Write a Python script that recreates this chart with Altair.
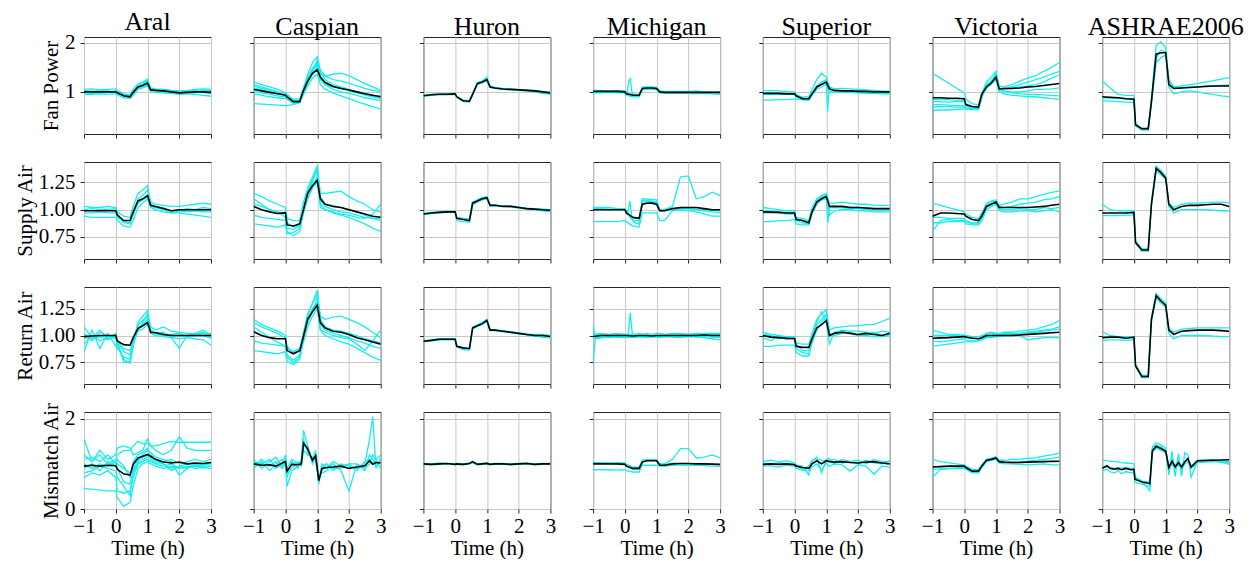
import altair as alt
import pandas as pd

SITES = ["Aral", "Caspian", "Huron", "Michigan", "Superior", "Victoria", "ASHRAE2006"]
METRICS = ["Fan Power", "Supply Air", "Return Air", "Mismatch Air"]

# common time grid (h)
T = [-1, -0.75, -0.5, -0.25, 0, 0.05, 0.25, 0.45, 0.55, 0.7, 0.85, 1.0, 1.1, 1.25, 1.5,
     1.75, 2, 2.25, 2.5, 2.75, 3]
T_CASPIAN_MIS = [-1, -0.75, -0.5, -0.3, -0.1, 0, 0.05, 0.2, 0.4, 0.5, 0.57, 0.7, 0.85, 0.95, 1.05,
                 1.15, 1.3, 1.5, 1.75, 2, 2.25, 2.5, 2.65, 2.75, 2.85, 3]
T_ASHRAE_MIS = [-1, -0.85, -0.75, -0.6, -0.5, -0.4, -0.25, -0.1, 0,
                0.03, 0.1, 0.25, 0.45, 0.5, 0.58, 0.7, 0.85, 1.0,
                1.1, 1.2, 1.3, 1.4, 1.5, 1.6, 1.7, 1.8, 2, 2.5, 3]

FAN_MEAN = {
    "Aral": [1.0, 1.0, 1.0, 1.0, 1.0, 0.98, 0.92, 0.9, 0.99, 1.1, 1.13, 1.18, 1.04, 1.03, 1.02, 1.0, 0.98, 0.99, 1.0, 1.0, 0.99],
    "Caspian": [1.05, 1.02, 0.99, 0.96, 0.93, 0.9, 0.8, 0.8, 1.0, 1.22, 1.38, 1.45, 1.3, 1.19, 1.11, 1.07, 1.04, 1.0, 0.96, 0.93, 0.9],
    "Huron": [0.92, 0.94, 0.95, 0.95, 0.96, 0.9, 0.82, 0.81, 0.95, 1.17, 1.2, 1.25, 1.1, 1.08, 1.06, 1.05, 1.04, 1.03, 1.02, 1.0, 0.98],
    "Michigan": [1.01, 1.01, 1.01, 1.01, 1.0, 0.96, 0.93, 0.93, 1.07, 1.08, 1.08, 1.07, 1.0, 0.99, 0.99, 0.99, 0.99, 0.99, 0.99, 0.99, 0.99],
    "Superior": [0.97, 0.97, 0.97, 0.96, 0.96, 0.92, 0.86, 0.86, 0.96, 1.1, 1.15, 1.2, 1.06, 1.03, 1.02, 1.02, 1.01, 1.01, 1.0, 1.0, 1.0],
    "Victoria": [0.88, 0.88, 0.87, 0.87, 0.86, 0.74, 0.7, 0.69, 0.95, 1.1, 1.18, 1.3, 1.06, 1.07, 1.07, 1.08, 1.1, 1.11, 1.13, 1.15, 1.17],
    "ASHRAE2006": [0.9, 0.89, 0.88, 0.86, 0.85, 0.33, 0.25, 0.25, 0.8, 1.77, 1.8, 1.8, 1.15, 1.07, 1.08, 1.09, 1.1, 1.11, 1.12, 1.12, 1.12],
}
FAN_RUNS = {
    "Aral": [
        [1.05, 1.06, 1.04, 1.05, 1.06, 1.03, 0.96, 0.94, 1.05, 1.16, 1.2, 1.26, 1.08, 1.06, 1.05, 1.03, 1.02, 1.03, 1.05, 1.06, 1.05],
        [0.95, 0.95, 0.96, 0.95, 0.96, 0.94, 0.88, 0.87, 0.93, 1.05, 1.08, 1.12, 1.0, 0.99, 0.98, 0.97, 0.95, 0.96, 0.95, 0.93, 0.91],
        [1.01, 1.02, 0.99, 1.01, 1.0, 0.99, 0.91, 0.89, 0.97, 1.12, 1.15, 1.21, 1.05, 1.02, 1.01, 0.99, 0.97, 1.0, 1.01, 0.99, 0.97],
        [0.98, 0.97, 0.98, 0.99, 1.02, 0.96, 0.93, 0.9, 1.0, 1.08, 1.1, 1.15, 1.03, 1.04, 1.0, 1.01, 1.0, 0.98, 0.98, 1.02, 1.03],
        [1.03, 1.0, 1.03, 1.02, 0.99, 1.0, 0.95, 0.92, 1.02, 1.13, 1.17, 1.23, 1.06, 1.05, 1.03, 1.02, 0.99, 1.01, 1.03, 1.04, 1.01],
    ],
    "Caspian": [
        [1.2, 1.15, 1.1, 1.05, 0.98, 0.95, 0.85, 0.86, 1.05, 1.35, 1.6, 1.72, 1.45, 1.32, 1.25, 1.22, 1.18, 1.12, 1.07, 1.03, 1.0],
        [1.12, 1.07, 1.03, 0.99, 0.95, 0.92, 0.8, 0.82, 1.0, 1.28, 1.48, 1.6, 1.38, 1.32, 1.36, 1.38, 1.33, 1.25, 1.17, 1.1, 1.03],
        [0.76, 0.75, 0.74, 0.73, 0.72, 0.72, 0.74, 0.78, 0.92, 1.12, 1.28, 1.36, 1.15, 1.05, 0.98, 0.92, 0.86, 0.8, 0.75, 0.7, 0.65],
        [0.96, 0.93, 0.9, 0.88, 0.86, 0.85, 0.77, 0.79, 0.97, 1.18, 1.35, 1.5, 1.28, 1.15, 1.05, 1.0, 0.97, 0.93, 0.88, 0.85, 0.82],
        [1.15, 1.1, 1.05, 1.0, 0.95, 0.9, 0.76, 0.8, 1.0, 1.25, 1.45, 1.55, 1.25, 1.15, 1.1, 1.07, 1.02, 1.0, 0.97, 0.93, 0.92],
        [1.0, 0.98, 0.95, 0.92, 0.9, 0.88, 0.82, 0.83, 0.98, 1.2, 1.4, 1.65, 1.4, 1.25, 1.15, 1.1, 1.05, 1.0, 0.95, 0.9, 0.86],
        [1.08, 1.04, 1.0, 0.97, 0.94, 0.91, 0.79, 0.81, 0.99, 1.22, 1.42, 1.58, 1.32, 1.2, 1.12, 1.08, 1.03, 0.98, 0.94, 0.9, 0.87],
    ],
    "Huron": [
        [0.93, 0.95, 0.96, 0.96, 0.97, 0.91, 0.83, 0.82, 0.97, 1.19, 1.22, 1.3, 1.12, 1.09, 1.07, 1.06, 1.05, 1.04, 1.03, 1.01, 0.99],
        [0.91, 0.93, 0.94, 0.94, 0.95, 0.89, 0.8, 0.79, 0.93, 1.15, 1.18, 1.23, 1.09, 1.07, 1.05, 1.04, 1.03, 1.02, 1.0, 0.97, 0.95],
    ],
    "Michigan": [
        [1.03, 1.03, 1.02, 1.03, 1.02, 0.98, 0.95, 0.95, 1.1, 1.1, 1.1, 1.09, 1.02, 1.01, 1.01, 1.01, 1.01, 1.02, 1.0, 1.0, 1.0],
        [0.98, 0.98, 0.99, 0.98, 0.98, 0.93, 0.9, 0.9, 1.04, 1.05, 1.05, 1.04, 0.98, 0.97, 0.97, 0.97, 0.97, 0.96, 0.97, 0.96, 0.95],
    ],
    "Superior": [
        [1.02, 1.03, 1.02, 1.01, 1.0, 0.95, 0.89, 0.9, 1.05, 1.25, 1.38, 1.3, 1.1, 1.06, 1.07, 1.06, 1.05, 1.04, 1.03, 1.02, 1.01],
        [0.83, 0.83, 0.84, 0.84, 0.85, 0.85, 0.84, 0.84, 0.93, 1.05, 1.1, 1.15, 0.98, 1.0, 1.0, 0.99, 0.98, 0.97, 0.97, 0.96, 0.96],
        [0.96, 0.98, 0.96, 0.97, 0.95, 0.9, 0.84, 0.83, 0.94, 1.08, 1.2, 1.25, 1.07, 1.02, 1.0, 0.99, 1.0, 0.99, 0.98, 0.98, 0.97],
    ],
    "Victoria": [
        [1.38, 1.28, 1.18, 1.08, 0.98, 0.85, 0.76, 0.73, 0.98, 1.2, 1.3, 1.42, 1.12, 1.1, 1.15, 1.22, 1.28, 1.33, 1.42, 1.5, 1.6],
        [0.62, 0.63, 0.63, 0.64, 0.65, 0.65, 0.66, 0.66, 0.88, 1.12, 1.2, 1.35, 1.0, 0.96, 0.93, 0.92, 0.9, 0.9, 0.88, 0.86, 0.85],
        [0.8, 0.8, 0.79, 0.8, 0.8, 0.74, 0.7, 0.7, 0.93, 1.1, 1.2, 1.28, 1.05, 1.06, 1.1, 1.15, 1.2, 1.25, 1.3, 1.36, 1.42],
        [0.74, 0.74, 0.73, 0.72, 0.72, 0.7, 0.67, 0.67, 0.9, 1.1, 1.17, 1.3, 1.05, 1.0, 1.0, 1.0, 1.02, 1.05, 1.05, 1.06, 1.08],
        [0.7, 0.7, 0.7, 0.69, 0.69, 0.67, 0.64, 0.64, 0.88, 1.15, 1.22, 1.38, 1.08, 1.05, 1.08, 1.1, 1.12, 1.15, 1.2, 1.28, 1.35],
        [0.85, 0.84, 0.84, 0.83, 0.83, 0.72, 0.68, 0.68, 0.92, 1.08, 1.15, 1.25, 1.04, 1.02, 0.98, 0.96, 0.95, 0.95, 0.94, 0.93, 0.92],
    ],
    "ASHRAE2006": [
        [1.22, 1.08, 0.95, 0.93, 0.93, 0.35, 0.24, 0.24, 0.85, 1.95, 2.02, 1.9, 1.25, 1.1, 1.12, 1.15, 1.17, 1.2, 1.23, 1.26, 1.29],
        [0.82, 0.81, 0.8, 0.79, 0.78, 0.3, 0.22, 0.22, 0.75, 1.6, 1.7, 1.75, 1.1, 0.96, 1.0, 1.02, 1.0, 0.97, 0.95, 0.92, 0.9],
        [0.88, 0.87, 0.87, 0.86, 0.86, 0.32, 0.24, 0.24, 0.78, 1.7, 1.85, 1.82, 1.18, 1.08, 1.08, 1.1, 1.1, 1.12, 1.12, 1.13, 1.14],
    ],
}

SUPPLY_MEAN = {
    "Aral": [0.99, 0.99, 0.99, 0.99, 0.99, 0.95, 0.9, 0.9, 0.98, 1.08, 1.1, 1.13, 1.04, 1.03, 1.01, 0.99, 1.0, 1.0, 1.0, 1.0, 1.0],
    "Caspian": [1.03, 1.0, 0.98, 0.965, 0.97, 0.86, 0.85, 0.87, 0.98, 1.15, 1.22, 1.27, 1.1, 1.05, 1.03, 1.02, 1.0, 0.98, 0.96, 0.94, 0.93],
    "Huron": [0.96, 0.97, 0.975, 0.98, 0.98, 0.92, 0.91, 0.9, 1.06, 1.08, 1.1, 1.11, 1.04, 1.04, 1.03, 1.03, 1.02, 1.01, 1.005, 1.0, 0.995],
    "Michigan": [1.0, 1.0, 1.0, 1.0, 1.0, 0.97, 0.93, 0.92, 1.05, 1.06, 1.06, 1.05, 0.99, 0.99, 1.01, 1.02, 1.02, 1.02, 1.01, 1.0, 1.0],
    "Superior": [0.98, 0.978, 0.975, 0.97, 0.97, 0.91, 0.9, 0.88, 0.98, 1.07, 1.1, 1.12, 1.03, 1.03, 1.03, 1.02, 1.02, 1.015, 1.01, 1.01, 1.01],
    "Victoria": [0.94, 0.97, 0.97, 0.965, 0.96, 0.94, 0.91, 0.9, 0.94, 1.03, 1.05, 1.07, 1.02, 1.02, 1.02, 1.02, 1.02, 1.025, 1.03, 1.04, 1.05],
    "ASHRAE2006": [0.97, 0.97, 0.97, 0.97, 0.975, 0.7, 0.63, 0.63, 1.05, 1.38, 1.34, 1.29, 1.05, 1.0, 1.03, 1.04, 1.04, 1.045, 1.05, 1.05, 1.03],
}
SUPPLY_RUNS = {
    "Aral": [
        [1.03, 1.02, 1.02, 1.03, 1.02, 0.98, 0.94, 0.93, 1.03, 1.15, 1.18, 1.22, 1.07, 1.05, 1.04, 1.03, 1.03, 1.04, 1.05, 1.06, 1.05],
        [0.94, 0.93, 0.93, 0.93, 0.93, 0.9, 0.85, 0.84, 0.9, 1.02, 1.06, 1.1, 1.02, 1.0, 0.98, 0.97, 0.97, 0.96, 0.95, 0.94, 0.93],
        [1.0, 1.01, 1.0, 1.0, 1.01, 0.96, 0.88, 0.87, 0.95, 1.1, 1.13, 1.18, 1.05, 1.03, 1.02, 0.98, 0.99, 1.01, 1.0, 1.02, 1.01],
        [0.97, 0.97, 0.98, 0.97, 0.97, 0.93, 0.89, 0.88, 0.97, 1.06, 1.09, 1.12, 1.03, 1.02, 1.0, 0.97, 0.99, 0.98, 0.99, 0.98, 0.98],
    ],
    "Caspian": [
        [1.15, 1.12, 1.08, 1.05, 1.02, 0.92, 0.9, 0.9, 1.05, 1.2, 1.3, 1.4, 1.15, 1.15, 1.16, 1.17, 1.12, 1.08, 1.05, 1.0, 0.98],
        [0.87, 0.86, 0.85, 0.84, 0.86, 0.8, 0.76, 0.8, 0.95, 1.1, 1.2, 1.3, 1.05, 1.0, 0.97, 0.95, 0.93, 0.9, 0.87, 0.83, 0.8],
        [1.1, 1.05, 1.0, 0.98, 0.93, 0.83, 0.82, 0.85, 0.98, 1.12, 1.2, 1.25, 1.08, 1.03, 1.0, 0.98, 0.97, 0.95, 0.93, 0.92, 0.92],
        [0.95, 0.93, 0.92, 0.91, 0.9, 0.78, 0.79, 0.83, 0.97, 1.15, 1.28, 1.35, 1.02, 1.0, 0.98, 0.96, 0.95, 0.93, 0.92, 0.96, 1.05],
        [1.05, 1.03, 1.0, 0.98, 0.97, 0.88, 0.84, 0.86, 1.0, 1.18, 1.25, 1.38, 1.12, 1.05, 1.04, 1.02, 1.0, 0.98, 0.95, 0.92, 0.9],
    ],
    "Huron": [
        [0.965, 0.975, 0.98, 0.985, 0.985, 0.93, 0.92, 0.915, 1.07, 1.09, 1.11, 1.12, 1.045, 1.045, 1.035, 1.035, 1.025, 1.015, 1.01, 1.005, 1.0],
        [0.955, 0.965, 0.97, 0.975, 0.975, 0.9, 0.89, 0.885, 1.04, 1.07, 1.09, 1.1, 1.035, 1.035, 1.03, 1.025, 1.015, 1.005, 1.0, 0.99, 0.98],
    ],
    "Michigan": [
        [1.02, 1.02, 1.02, 1.01, 1.01, 0.98, 0.92, 0.92, 1.08, 1.08, 1.08, 1.07, 1.0, 1.0, 1.03, 1.3, 1.31, 1.1, 1.12, 1.16, 1.13],
        [0.89, 0.89, 0.89, 0.89, 0.9, 0.89, 0.85, 0.84, 0.97, 0.97, 0.97, 0.97, 0.9, 0.9, 0.99, 1.0, 0.99, 0.98, 0.96, 0.94, 0.94],
        [1.01, 1.01, 1.0, 1.0, 1.0, 0.97, 0.9, 0.9, 1.08, 1.08, 1.07, 1.06, 0.99, 0.99, 1.0, 1.01, 1.01, 1.0, 0.99, 0.98, 0.97],
    ],
    "Superior": [
        [0.89, 0.89, 0.9, 0.9, 0.91, 0.87, 0.86, 0.86, 0.98, 1.08, 1.12, 1.14, 0.95, 0.99, 1.0, 1.0, 0.99, 0.99, 0.98, 0.98, 0.98],
        [1.02, 1.01, 1.0, 0.99, 0.99, 0.93, 0.92, 0.9, 1.02, 1.1, 1.13, 1.15, 1.06, 1.06, 1.07, 1.06, 1.05, 1.05, 1.04, 1.04, 1.04],
        [0.97, 0.97, 0.97, 0.96, 0.96, 0.9, 0.88, 0.87, 0.96, 1.05, 1.09, 1.1, 1.02, 1.02, 1.02, 1.01, 1.01, 1.0, 1.0, 0.99, 1.0],
    ],
    "Victoria": [
        [1.06, 1.04, 1.02, 1.0, 0.98, 0.96, 0.93, 0.92, 0.97, 1.06, 1.08, 1.09, 1.04, 1.05, 1.07, 1.1, 1.1, 1.12, 1.14, 1.16, 1.17],
        [0.88, 0.88, 0.89, 0.89, 0.89, 0.87, 0.86, 0.86, 0.9, 1.0, 1.03, 1.05, 0.99, 0.98, 0.98, 0.99, 0.99, 0.98, 0.99, 1.0, 0.98],
        [0.93, 0.93, 0.92, 0.92, 0.92, 0.9, 0.88, 0.88, 0.95, 1.04, 1.07, 1.08, 1.03, 1.02, 1.03, 1.05, 1.06, 1.07, 1.09, 1.1, 1.12],
        [0.8, 0.9, 0.91, 0.9, 0.9, 0.89, 0.87, 0.87, 0.92, 1.02, 1.05, 1.06, 1.01, 1.0, 1.0, 1.01, 1.0, 1.0, 1.02, 1.01, 1.02],
    ],
    "ASHRAE2006": [
        [1.05, 1.0, 0.99, 0.99, 0.99, 0.71, 0.64, 0.64, 1.07, 1.4, 1.36, 1.31, 1.06, 1.02, 1.05, 1.06, 1.06, 1.065, 1.07, 1.07, 1.06],
        [0.945, 0.945, 0.945, 0.95, 0.95, 0.69, 0.62, 0.62, 1.03, 1.36, 1.32, 1.28, 1.03, 0.97, 1.0, 1.0, 1.0, 1.0, 0.995, 0.99, 0.99],
    ],
}

RETURN_MEAN = {
    "Aral": [0.99, 0.995, 1.0, 1.0, 1.0, 0.95, 0.915, 0.91, 0.98, 1.065, 1.09, 1.12, 1.03, 1.025, 1.01, 1.0, 1.0, 1.0, 1.0, 1.0, 1.0],
    "Caspian": [1.035, 1.0, 0.98, 0.97, 0.97, 0.86, 0.83, 0.86, 0.97, 1.15, 1.22, 1.28, 1.12, 1.07, 1.04, 1.03, 1.01, 0.98, 0.96, 0.94, 0.92],
    "Huron": [0.947, 0.955, 0.965, 0.965, 0.965, 0.9, 0.885, 0.88, 1.07, 1.09, 1.11, 1.14, 1.05, 1.05, 1.04, 1.03, 1.02, 1.01, 1.0, 1.0, 0.99],
    "Michigan": [0.99, 1.0, 1.0, 1.0, 1.0, 1.0, 0.995, 1.0, 1.0, 1.0, 0.995, 1.0, 1.0, 1.0, 1.0, 1.0, 1.0, 1.0, 1.005, 1.0, 1.0],
    "Superior": [1.0, 0.985, 0.98, 0.975, 0.97, 0.9, 0.89, 0.89, 0.97, 1.07, 1.1, 1.14, 1.0, 1.02, 1.03, 1.02, 1.01, 1.02, 1.01, 1.0, 1.02],
    "Victoria": [0.975, 0.978, 0.98, 0.985, 0.99, 0.985, 0.975, 0.97, 0.98, 1.0, 1.0, 1.0, 1.0, 1.0, 1.0, 1.005, 1.01, 1.015, 1.02, 1.025, 1.03],
    "ASHRAE2006": [0.98, 0.985, 0.985, 0.975, 0.985, 0.72, 0.62, 0.62, 1.15, 1.37, 1.32, 1.28, 1.05, 1.01, 1.04, 1.045, 1.05, 1.05, 1.05, 1.045, 1.04],
}
RETURN_RUNS = {
    "Aral": [
        [0.85, 1.05, 0.88, 1.02, 0.9, 0.95, 0.75, 0.76, 0.92, 1.05, 1.12, 1.2, 1.05, 1.02, 1.03, 0.98, 0.88, 1.0, 1.02, 1.05, 1.0],
        [1.08, 0.98, 1.05, 0.97, 1.02, 0.88, 0.8, 0.78, 0.95, 1.12, 1.18, 1.23, 1.08, 1.05, 1.08, 1.04, 1.03, 1.02, 1.01, 1.03, 0.98],
        [0.98, 0.97, 0.99, 0.96, 0.99, 0.94, 0.88, 0.86, 0.93, 1.04, 1.06, 1.1, 1.02, 1.0, 0.99, 0.98, 0.97, 0.98, 0.97, 0.96, 0.91],
        [0.92, 1.0, 0.95, 0.98, 1.0, 0.96, 0.85, 0.82, 0.97, 1.08, 1.1, 1.15, 1.04, 1.03, 1.02, 1.0, 1.0, 1.0, 1.01, 1.0, 0.97],
        [1.02, 0.95, 1.03, 1.0, 0.97, 0.92, 0.78, 0.74, 0.9, 1.1, 1.14, 1.18, 1.04, 1.02, 1.0, 1.01, 1.02, 0.99, 1.0, 1.02, 1.02],
    ],
    "Caspian": [
        [1.15, 1.1, 1.07, 1.04, 1.0, 0.88, 0.85, 0.88, 1.0, 1.18, 1.3, 1.42, 1.18, 1.15, 1.17, 1.18, 1.15, 1.12, 1.08, 1.03, 0.98],
        [0.86, 0.85, 0.84, 0.83, 0.85, 0.76, 0.73, 0.78, 0.92, 1.08, 1.18, 1.25, 1.05, 1.0, 0.97, 0.94, 0.92, 0.88, 0.84, 0.8, 0.77],
        [1.08, 1.03, 0.98, 0.94, 0.9, 0.8, 0.75, 0.8, 0.95, 1.12, 1.22, 1.35, 1.1, 1.05, 1.02, 1.0, 0.98, 0.95, 0.93, 0.9, 0.88],
        [0.95, 0.93, 0.92, 0.91, 0.9, 0.82, 0.77, 0.82, 0.97, 1.14, 1.25, 1.3, 1.05, 1.03, 1.0, 0.98, 0.97, 0.92, 0.86, 0.95, 1.05],
        [1.12, 1.08, 1.05, 1.02, 0.98, 0.9, 0.84, 0.86, 1.0, 1.2, 1.3, 1.38, 1.15, 1.08, 1.05, 1.04, 1.02, 1.0, 0.97, 0.95, 0.93],
    ],
    "Huron": [
        [0.95, 0.96, 0.97, 0.97, 0.97, 0.9, 0.875, 0.87, 1.08, 1.1, 1.12, 1.15, 1.055, 1.055, 1.045, 1.035, 1.025, 1.015, 1.01, 1.01, 1.0],
        [0.943, 0.95, 0.96, 0.96, 0.96, 0.895, 0.87, 0.865, 1.06, 1.085, 1.1, 1.13, 1.045, 1.045, 1.035, 1.025, 1.015, 1.005, 0.995, 0.985, 0.975],
    ],
    "Michigan": [
        [1.01, 1.02, 1.01, 1.02, 1.01, 1.01, 1.01, 1.02, 1.01, 1.02, 1.01, 1.02, 1.02, 1.01, 1.02, 1.02, 1.01, 1.02, 1.02, 1.02, 1.02],
        [0.98, 0.985, 0.98, 0.99, 0.98, 0.985, 0.98, 0.99, 0.985, 0.98, 0.99, 0.985, 0.98, 0.99, 0.985, 0.98, 0.99, 0.985, 0.98, 0.97, 0.96],
    ],
    "Superior": [
        [0.9, 0.9, 0.91, 0.91, 0.91, 0.84, 0.81, 0.81, 0.95, 1.1, 1.15, 1.2, 1.0, 1.02, 1.04, 1.02, 1.0, 1.0, 0.99, 0.99, 1.0],
        [1.03, 1.01, 1.0, 0.99, 0.99, 0.93, 0.92, 0.92, 1.02, 1.15, 1.2, 1.24, 1.05, 1.07, 1.08, 1.09, 1.09, 1.1, 1.1, 1.13, 1.16],
        [0.98, 0.95, 1.0, 0.96, 0.98, 0.88, 0.84, 0.83, 0.93, 1.05, 1.12, 1.18, 1.02, 1.0, 1.02, 1.03, 1.0, 1.01, 1.03, 1.0, 1.01],
        [1.01, 1.0, 0.97, 0.99, 0.98, 0.92, 0.86, 0.86, 0.99, 1.12, 1.22, 1.12, 0.92, 1.03, 1.05, 1.04, 1.04, 1.03, 1.02, 1.04, 1.03],
    ],
    "Victoria": [
        [1.05, 1.03, 1.01, 1.01, 1.0, 1.0, 0.99, 0.99, 1.0, 1.02, 1.03, 1.02, 1.02, 1.03, 1.03, 1.04, 1.05, 1.06, 1.08, 1.1, 1.14],
        [0.9, 0.91, 0.92, 0.93, 0.94, 0.94, 0.94, 0.95, 0.96, 0.98, 0.98, 0.99, 0.99, 1.0, 1.0, 1.0, 0.96, 0.97, 0.98, 0.98, 0.98],
        [0.95, 0.94, 0.95, 0.96, 0.97, 0.96, 0.95, 0.95, 0.97, 0.99, 1.0, 1.01, 1.0, 1.01, 1.01, 1.02, 1.03, 1.04, 1.05, 1.06, 1.08],
        [1.0, 1.0, 1.0, 1.0, 1.0, 0.99, 0.98, 0.97, 0.99, 1.01, 1.02, 1.02, 1.01, 1.02, 1.02, 1.02, 1.03, 1.03, 1.04, 1.05, 1.06],
    ],
    "ASHRAE2006": [
        [1.035, 1.0, 0.99, 0.99, 0.99, 0.73, 0.63, 0.63, 1.17, 1.39, 1.34, 1.3, 1.07, 1.03, 1.06, 1.065, 1.07, 1.07, 1.07, 1.07, 1.07],
        [0.955, 0.96, 0.96, 0.955, 0.96, 0.71, 0.61, 0.61, 1.13, 1.35, 1.3, 1.26, 1.02, 0.97, 1.0, 1.0, 1.0, 1.0, 0.995, 0.99, 0.99],
    ],
}

MISMATCH_MEAN = {
    "Aral": [0.95, 0.97, 0.95, 0.97, 0.96, 0.88, 0.78, 0.75, 0.99, 1.13, 1.17, 1.21, 1.17, 1.1, 1.04, 1.02, 1.04, 1.0, 1.02, 1.01, 1.03],
    "Caspian": [1.0, 0.97, 0.98, 0.95, 1.02, 1.05, 0.84, 0.99, 0.98, 1.0, 1.46, 1.33, 1.08, 1.18, 0.63, 0.9, 0.92, 0.93, 0.95, 0.9, 0.93, 0.96, 1.07, 0.99, 1.03, 1.02],
    "Huron": [1.0, 0.99, 1.0, 1.01, 0.99, 1.0, 0.99, 1.01, 1.05, 0.99, 1.0, 1.01, 0.99, 1.0, 1.0, 0.99, 1.0, 1.01, 0.99, 1.0, 1.0],
    "Michigan": [1.0, 1.0, 1.0, 1.0, 0.99, 0.95, 0.9, 0.9, 1.04, 1.07, 1.07, 1.07, 0.97, 0.97, 1.0, 1.01, 1.01, 1.0, 1.0, 0.995, 0.99],
    "Superior": [0.99, 1.0, 0.99, 1.0, 0.98, 0.95, 0.92, 0.9, 1.0, 1.07, 1.0, 1.07, 1.05, 1.04, 1.05, 1.03, 1.02, 1.04, 1.05, 1.02, 1.0],
    "Victoria": [0.93, 0.94, 0.95, 0.95, 0.95, 0.92, 0.84, 0.84, 0.95, 1.08, 1.1, 1.13, 1.05, 1.04, 1.03, 1.03, 1.04, 1.045, 1.05, 1.055, 1.06],
    "ASHRAE2006": [0.9, 0.96, 0.9, 0.88, 0.9, 0.87, 0.9, 0.87, 0.88,
                   0.66, 0.64, 0.6, 0.57, 0.56, 1.29, 1.39, 1.34, 1.28,
                   0.92, 1.06, 0.93, 1.03, 0.93, 1.04, 1.12, 0.93, 1.07, 1.08, 1.09],
}
MISMATCH_RUNS = {
    "Aral": [
        [0.45, 0.44, 0.42, 0.4, 0.4, 0.25, 0.06, 0.15, 0.5, 0.9, 1.0, 1.05, 1.0, 0.95, 0.9, 0.95, 0.9, 0.92, 0.95, 0.93, 0.95],
        [1.55, 1.05, 1.2, 1.0, 1.1, 1.2, 1.3, 1.3, 1.4, 1.5, 1.45, 1.45, 1.4, 1.4, 1.45, 1.5, 1.48, 1.48, 1.48, 1.48, 1.48],
        [0.7, 0.8, 0.75, 0.85, 0.7, 0.4, 0.35, 0.4, 0.7, 1.0, 1.1, 1.15, 1.2, 1.1, 1.0, 0.9, 0.95, 1.0, 0.95, 0.98, 1.0],
        [1.2, 1.05, 1.3, 1.1, 1.2, 1.35, 1.4, 1.35, 1.2, 1.25, 1.3, 1.55, 1.4, 1.3, 1.2, 1.3, 1.6, 1.35, 1.3, 1.3, 1.3],
        [1.0, 0.9, 1.0, 0.95, 1.05, 0.9, 0.6, 0.55, 0.9, 1.1, 1.15, 1.2, 1.15, 1.05, 1.0, 0.85, 0.95, 0.9, 1.0, 0.95, 0.95],
        [0.9, 1.0, 0.85, 1.05, 0.95, 1.0, 0.9, 0.8, 0.85, 1.0, 1.05, 1.1, 1.05, 1.0, 0.95, 1.0, 0.9, 0.95, 0.9, 0.92, 0.9],
        [0.8, 0.85, 0.95, 0.9, 0.85, 0.7, 0.5, 0.3, 0.8, 1.05, 1.2, 1.3, 1.25, 1.15, 1.1, 1.05, 0.75, 0.9, 0.98, 1.0, 1.02],
        [1.1, 1.15, 1.05, 1.2, 1.0, 1.1, 0.95, 0.7, 1.05, 1.2, 1.25, 1.35, 1.1, 1.0, 1.05, 1.1, 1.0, 1.05, 1.1, 1.05, 1.1],
    ],
    "Caspian": [
        [1.1, 0.9, 1.05, 1.15, 0.95, 1.1, 0.7, 1.05, 0.9, 1.1, 1.75, 1.4, 1.0, 1.2, 0.55, 0.95, 1.0, 0.85, 1.0, 0.95, 0.9, 1.0, 1.55, 2.05, 0.9, 1.15],
        [0.9, 1.05, 0.85, 1.0, 1.1, 0.95, 0.8, 0.9, 1.05, 0.95, 1.3, 1.2, 1.15, 1.05, 0.7, 0.8, 0.85, 1.0, 0.85, 0.4, 1.0, 0.9, 1.0, 1.2, 1.1, 0.9],
        [1.05, 1.0, 1.1, 0.9, 1.0, 1.2, 0.9, 1.1, 1.0, 1.05, 1.55, 1.25, 1.1, 1.3, 0.6, 1.0, 0.9, 1.05, 0.95, 1.0, 0.85, 1.05, 1.1, 1.0, 1.1, 1.2],
        [0.95, 1.1, 0.95, 1.05, 0.9, 1.0, 0.5, 0.85, 0.95, 1.0, 1.4, 1.4, 1.05, 1.1, 0.65, 0.85, 1.0, 0.9, 0.9, 1.0, 1.0, 0.85, 1.2, 1.1, 0.95, 1.05],
    ],
    "Huron": [
        [1.01, 1.0, 1.02, 1.0, 1.01, 1.01, 1.0, 1.02, 1.04, 1.0, 1.01, 1.02, 1.0, 1.01, 1.01, 1.0, 1.01, 1.02, 1.0, 1.01, 1.01],
        [0.99, 0.98, 0.99, 1.0, 0.98, 0.99, 0.98, 1.0, 1.02, 0.98, 0.99, 1.0, 0.98, 0.99, 0.99, 0.98, 0.99, 1.0, 0.98, 0.99, 0.99],
    ],
    "Michigan": [
        [1.03, 1.03, 1.02, 1.03, 1.02, 0.99, 0.93, 0.93, 1.08, 1.1, 1.1, 1.1, 1.0, 1.0, 1.1, 1.34, 1.34, 1.13, 1.15, 1.2, 1.13],
        [0.87, 0.87, 0.87, 0.86, 0.87, 0.85, 0.82, 0.82, 0.97, 0.97, 0.97, 0.97, 0.95, 0.95, 0.97, 0.98, 0.97, 0.97, 0.96, 0.95, 0.94],
        [1.01, 1.01, 1.01, 1.0, 1.0, 0.96, 0.88, 0.88, 1.06, 1.08, 1.08, 1.08, 0.99, 0.99, 1.01, 1.01, 1.0, 1.0, 0.99, 0.99, 0.98],
    ],
    "Superior": [
        [1.05, 1.08, 1.04, 1.07, 1.02, 0.97, 0.95, 0.75, 1.05, 1.15, 0.8, 1.1, 1.12, 1.0, 1.1, 1.05, 1.08, 1.0, 1.1, 1.05, 1.05],
        [0.95, 0.96, 0.93, 0.97, 0.95, 0.9, 0.86, 0.85, 0.93, 1.0, 0.85, 1.02, 0.95, 1.0, 0.98, 0.84, 0.98, 0.95, 0.77, 0.95, 0.93],
        [1.02, 0.99, 1.02, 1.01, 1.0, 0.98, 0.88, 0.95, 1.08, 1.12, 1.08, 1.05, 1.08, 1.1, 1.02, 1.06, 1.0, 1.08, 1.02, 1.0, 1.07],
    ],
    "Victoria": [
        [1.1, 1.05, 1.03, 1.0, 0.98, 0.95, 0.88, 0.88, 0.98, 1.1, 1.13, 1.16, 1.08, 1.08, 1.1, 1.1, 1.12, 1.14, 1.17, 1.2, 1.24],
        [0.7, 0.88, 0.89, 0.9, 0.9, 0.88, 0.8, 0.8, 0.92, 1.05, 1.08, 1.1, 1.02, 1.0, 1.0, 0.99, 0.98, 0.99, 1.0, 0.98, 0.98],
        [0.88, 0.89, 0.9, 0.91, 0.92, 0.9, 0.82, 0.81, 0.93, 1.06, 1.09, 1.12, 1.04, 1.03, 1.04, 1.05, 1.06, 1.08, 1.1, 1.12, 1.15],
    ],
    "ASHRAE2006": [
        [1.09, 1.07, 1.06, 1.05, 1.04, 1.03, 1.02, 1.01, 1.0,
         0.72, 0.68, 0.62, 0.45, 0.4, 1.38, 1.47, 1.42, 1.35,
         0.75, 1.28, 0.72, 1.22, 0.73, 1.25, 1.2, 0.7, 1.06, 1.07, 1.05],
        [0.85, 0.88, 0.82, 0.8, 0.85, 0.78, 0.83, 0.8, 0.82,
         0.6, 0.58, 0.55, 0.5, 0.5, 1.25, 1.35, 1.3, 1.25,
         0.88, 1.0, 0.9, 1.0, 0.88, 1.0, 1.05, 0.9, 1.03, 1.05, 1.02],
        [0.92, 0.93, 0.92, 0.9, 0.92, 0.9, 0.92, 0.9, 0.9,
         0.7, 0.66, 0.62, 0.6, 0.6, 1.32, 1.42, 1.37, 1.3,
         0.95, 1.1, 0.96, 1.06, 0.95, 1.06, 1.1, 0.95, 1.08, 1.1, 0.99],
    ],
}

# single runs with their own sample times (short spikes)
EXTRA_RUNS = [
    ("Fan Power", "Michigan", [-1, -0.5, 0, 0.08, 0.12, 0.17, 0.22, 0.3, 0.45, 0.55, 1.0, 1.1, 2, 3],
     [1.0, 1.01, 1.0, 0.99, 1.22, 1.27, 1.0, 0.92, 0.92, 1.07, 1.07, 1.0, 0.99, 0.98]),
    ("Fan Power", "Superior", [-1, 0, 0.05, 0.45, 0.55, 0.7, 0.85, 1.0, 1.04, 1.08, 1.2, 2, 3],
     [0.95, 0.95, 0.9, 0.85, 0.97, 1.12, 1.2, 1.22, 0.6, 1.0, 1.03, 1.02, 0.99]),
    ("Supply Air", "Michigan", [-1, 0, 0.1, 0.16, 0.22, 0.3, 0.45, 0.55, 1.0, 1.1, 2, 3],
     [1.01, 1.0, 0.98, 1.08, 0.93, 0.88, 0.87, 1.1, 1.09, 1.0, 1.01, 0.99]),
    ("Supply Air", "Superior", [-1, 0, 0.05, 0.45, 0.55, 0.7, 0.95, 1.0, 1.05, 1.1, 1.2, 2, 3],
     [0.99, 0.97, 0.92, 0.88, 0.98, 1.08, 1.12, 1.13, 0.88, 1.03, 1.02, 1.02, 1.0]),
    ("Return Air", "Michigan", [-1, -0.5, 0, 0.1, 0.17, 0.24, 0.3, 1, 2, 3],
     [1.01, 1.0, 1.0, 1.0, 1.21, 1.0, 0.99, 1.0, 1.01, 1.0]),
    ("Return Air", "Michigan", [-1, -0.93, -0.5, 0, 0.5, 1, 1.5, 2, 2.5, 3],
     [0.74, 0.97, 0.99, 0.98, 0.99, 0.99, 1.0, 1.0, 0.99, 0.98]),
    ("Return Air", "Michigan", [-1, -0.95, -0.5, 0, 0.5, 1, 2, 3],
     [1.1, 1.01, 1.0, 1.01, 1.0, 1.0, 1.0, 1.01]),
]

MEANS = {"Fan Power": FAN_MEAN, "Supply Air": SUPPLY_MEAN, "Return Air": RETURN_MEAN, "Mismatch Air": MISMATCH_MEAN}
RUNS = {"Fan Power": FAN_RUNS, "Supply Air": SUPPLY_RUNS, "Return Air": RETURN_RUNS, "Mismatch Air": MISMATCH_RUNS}
PANEL_TIMES = {("Mismatch Air", "Caspian"): T_CASPIAN_MIS, ("Mismatch Air", "ASHRAE2006"): T_ASHRAE_MIS}

Y_DOMAIN = {"Fan Power": [0.14, 2.12], "Supply Air": [0.547, 1.438], "Return Air": [0.55, 1.45], "Mismatch Air": [0, 2.15]}
Y_TICKS = {"Fan Power": [1, 2], "Supply Air": [0.75, 1.0, 1.25], "Return Air": [0.75, 1.0, 1.25], "Mismatch Air": [0, 2]}
Y_FORMAT = {"Fan Power": "d", "Supply Air": ".2f", "Return Air": ".2f", "Mismatch Air": "d"}
X_TICKS = [-1, 0, 1, 2, 3]

CYAN = "#14eeee"
FONT = "Liberation Serif"
FRAME = "#262626"

AXIS_STYLE = dict(labelFont=FONT, titleFont=FONT, labelFontSize=21, titleFontSize=21,
                  labelColor="black", titleColor="black", titleFontWeight="normal",
                  gridColor="#c8c8c8", gridWidth=1, tickColor=FRAME, tickSize=4,
                  domain=False, labelFlush=False, labelOverlap=False, grid=True)


def panel(mi, si):
    metric, site = METRICS[mi], SITES[si]
    t = PANEL_TIMES.get((metric, site), T)
    run_rows = []
    for k, vals in enumerate(RUNS[metric][site]):
        for ti, vi in zip(t, vals):
            run_rows.append({"t": ti, "v": vi, "run": f"r{k}"})
    for j, (m, s, tt, vv) in enumerate(EXTRA_RUNS):
        if m == metric and s == site:
            for ti, vi in zip(tt, vv):
                run_rows.append({"t": ti, "v": vi, "run": f"x{j}"})
    mean_rows = [{"t": ti, "v": vi} for ti, vi in zip(t, MEANS[metric][site])]

    bottom = mi == len(METRICS) - 1
    left = si == 0
    xaxis = alt.Axis(values=X_TICKS, labels=bottom, title="Time (h)" if bottom else None,
                     format="d", labelPadding=2, titlePadding=1, **AXIS_STYLE)
    yaxis = alt.Axis(values=Y_TICKS[metric], labels=left, title=metric if left else None,
                     format=Y_FORMAT[metric], labelPadding=5, titlePadding=3, **AXIS_STYLE)
    x = alt.X("t:Q", scale=alt.Scale(domain=[-1, 3], nice=False, zero=False), axis=xaxis)
    y = alt.Y("v:Q", scale=alt.Scale(domain=Y_DOMAIN[metric], nice=False, zero=False), axis=yaxis)

    runs = alt.Chart(pd.DataFrame(run_rows)).mark_line(
        color=CYAN, strokeWidth=1.3, clip=True).encode(x=x, y=y, detail="run:N")
    mean = alt.Chart(pd.DataFrame(mean_rows)).mark_line(
        color="black", strokeWidth=1.6, clip=True).encode(x=x, y=y)
    ch = alt.layer(runs, mean).properties(width=127, height=97)
    if mi == 0:
        ch = ch.properties(title=alt.TitleParams(site, font=FONT, fontSize=26, fontWeight="normal",
                                                 color="black", frame="group", offset=-3))
    return ch


panels = [panel(mi, si) for mi in range(len(METRICS)) for si in range(len(SITES))]

chart = alt.concat(*panels, columns=7, spacing={"row": 28, "column": 42.7}, bounds="flush").properties(
    padding={"left": 5, "top": 0, "right": 0, "bottom": 0}
).configure_view(
    stroke=FRAME, strokeWidth=1
)

chart.save("out.html", embed_options={"renderer": "svg", "actions": False})
